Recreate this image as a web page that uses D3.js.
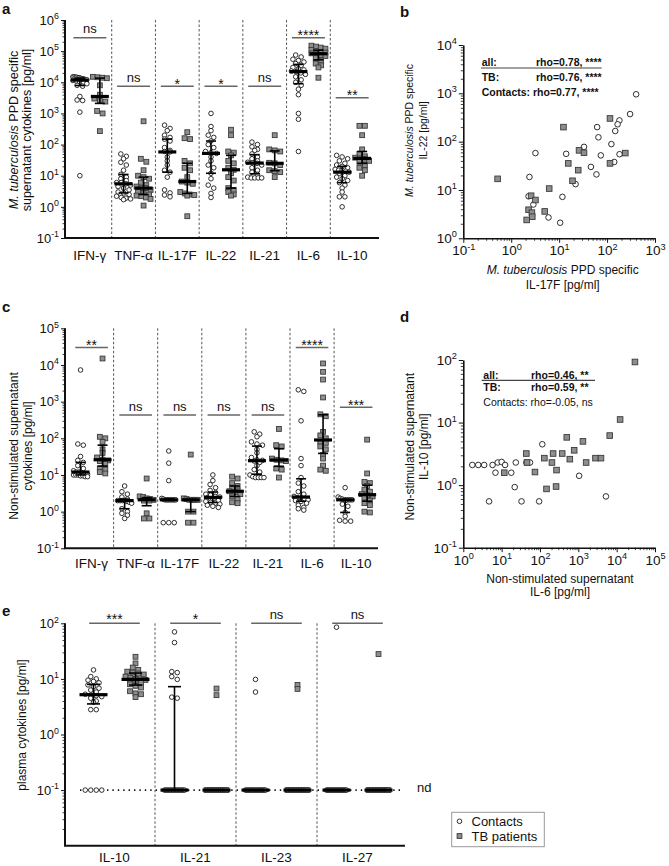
<!DOCTYPE html>
<html><head><meta charset="utf-8">
<script src="https://cdn.jsdelivr.net/npm/d3@7"></script>
<style>
body{margin:0;background:#fff}
svg{display:block}
text{font-family:"Liberation Sans",Arial,Helvetica,sans-serif;fill:#111}
</style>
</head><body>
<svg id="chart" width="669" height="866"></svg>
<script>
// ---------------- DATA ----------------
const cytokinesAC = ["IFN-γ","TNF-α","IL-17F","IL-22","IL-21","IL-6","IL-10"];
const sigA = ["ns","ns","*","*","ns","****","**"];
const sigC = ["**","ns","ns","ns","ns","****","***"];
const cytokinesE = ["IL-10","IL-21","IL-23","IL-27"];
const sigE = ["***","*","ns","ns"];

// a: M. tuberculosis PPD specific supernatant cytokines [pg/ml]
const ppdContacts = [
  [15000,15000,14500,14500,14000,14000,13500,13000,13000,12500,12000,12000,11500,11000,10000,9500,9000,8000,7500,3500,2700,2600,1100,10],
  [50,42,35,27,22,15,11,9,8,7,6,6,5.5,5,4.5,4,3.5,3,2.8,2.5,2.2,2,1.9,1.8,1.7],
  [420,330,280,200,170,150,130,80,65,60,58,40,30,22,15,13,9,3.5,2.8,2.4,2.1],
  [1000,380,280,200,170,130,100,80,60,55,52,40,30,22,18,12,8,5,4,2.7,2],
  [120,100,85,70,65,50,40,35,30,27,26,25,22,18,15,13,11,9,8.5,8.5,8.5,8.5],
  [75000,65000,55000,50000,45000,40000,35000,30000,27000,25000,23000,22000,20000,18000,15000,12000,10000,8000,6000,4000,1000,650,60],
  [45,40,35,30,25,22,20,18,16,15,15,14,13,12,10,9,8,7,6,5,4,3,2.1,2.1,1]
];
const ppdTB = [
  [15000,14500,14000,13500,8000,4000,3000,2600,2400,1200,1000,270],
  [560,35,28,15,10,9,8,6,5,4.5,4,4,3.5,3,2.8,2.5,2.3,2.2,2,1.8,1.1],
  [250,160,150,30,25,18,15,9,6.5,6,5.5,3,2.7,2.5,2.4,2.3,0.5],
  [300,200,60,55,45,30,25,18,15.5,12,9,7,4,3.5,3,2.5,2.3],
  [200,70,65,60,26,25,22,15,14,13,9],
  [150000,140000,130000,120000,110000,100000,95000,90000,85000,80000,75000,70000,60000,50000,40000,35000,30000,14000],
  [400,400,200,70,50,42,38,36,35,30,28,22,18,15,10]
];

// c: non-stimulated supernatant cytokines [pg/ml]
const unstimContacts = [
  [7300,70,65,32,25,22,18,15,13,12,12,11,11,10.5,10,10,10,9.5,9.5,9,9],
  [5,3.5,3,2.5,2.2,2,2,2,2,1.9,1.8,1.7,1.2,1,0.9,0.8,0.65],
  [45,21,7,2.3,2.2,2.1,2.1,2.1,2.1,2.1,2.1,2.1,2.1,0.5,0.5,0.5],
  [10,7,5.5,4.5,3.8,3.3,3,2.8,2.6,2.5,2.4,2.2,2,1.9,1.8,1.7,1.6,1.5,1.4,1.3],
  [150,130,110,80,70,65,50,40,30,26,25,24,22,18,14,12,10,9,8.5,8.5,8.5,8.5],
  [2100,1900,300,28,18,8.5,6,5,3.5,3,2.6,2.4,2.3,2.2,2.1,2,1.9,1.7,1.5,1.3,1.2,1.1],
  [4.5,2.5,2.3,2.2,2.1,2.1,2.1,2.1,2.1,2.0,1.6,1.4,0.95,0.75,0.58,0.55,0.55]
];
const unstimTB = [
  [15000,110,100,80,50,40,30,26,25,24,20,15,14,12,11],
  [8,2.6,2.5,2.3,2.2,2.1,2,2,0.9,0.65,0.65],
  [36,2.3,2.2,2.1,2.1,2.1,2.1,1.0,1.0,0.5,0.5],
  [9,8,6,5,4.5,3.8,3.6,3.4,3,2.6,2.2,1.8,1.7],
  [180,65,60,28,26,25,24,15,14,8.5],
  [11000,6500,4000,1300,450,400,150,120,100,80,75,60,50,35,28,18,14,13],
  [92,11,6.5,6,5,4,3.5,3,2.8,2.6,2.4,2,1.7,1.5,1,0.95]
];

// e: plasma cytokines [pg/ml]; 0.1 = not detected (nd)
const plasmaContacts = [
  [14.5,11,10,9.5,9,8.5,7.8,7.2,6.8,6.3,5.8,5.3,5.1,5.0,4.8,4.5,4.0,3.8,2.8,2.8,0.1,0.1,0.1,0.1],
  [70,45,13.5,13,11,9.8,4.7,4.5,0.1,0.1,0.1,0.1,0.1,0.1,0.1,0.1,0.1,0.1,0.1,0.1,0.1,0.1,0.1],
  [9.8,5.8,0.1,0.1,0.1,0.1,0.1,0.1,0.1,0.1,0.1,0.1,0.1,0.1,0.1,0.1,0.1,0.1,0.1,0.1],
  [85,0.1,0.1,0.1,0.1,0.1,0.1,0.1,0.1,0.1,0.1,0.1,0.1,0.1,0.1,0.1,0.1,0.1,0.1,0.1]
];
const plasmaTB = [
  [25,19,16,14.5,13.5,13,12.5,12,11,10.5,10,9.8,9.6,9.3,9,8.5,8,7.5,7,6,5.5,5.3,4.7],
  [6.7,5.1,0.1,0.1,0.1,0.1,0.1,0.1,0.1,0.1,0.1,0.1,0.1,0.1],
  [7.8,6.6,0.1,0.1,0.1,0.1,0.1,0.1,0.1,0.1,0.1,0.1,0.1,0.1,0.1],
  [28,0.1,0.1,0.1,0.1,0.1,0.1,0.1,0.1,0.1,0.1,0.1,0.1,0.1,0.1]
];

// b: IL-17F (x) vs IL-22 (y), PPD specific [pg/ml]
const bContactsX = [404,302,181,166,148,62,66,123,33,14,3.2,74,182,141,46,60,2.4,22,2.3,11.7,2.9,6,10.5];
const bContactsY = [955,372,275,229,166,200,123,89,78,56,58,52,55,38,30,21,18.6,13.2,7.4,7.2,5,2.7,2.1];
const bTBX = [115,12.3,26,33,240,15.5,25,115,19,0.52,6.2,2.6,3.2,2.3,2.7,2.75,2.1,5];
const bTBY = [302,200,66,59,58,35.5,25.7,35.5,15.5,17,10.7,7.6,6.2,3.9,3.4,2.8,2.4,3.6];
const bStats = [["all:","rho=0.78, ****"],["TB:","rho=0.76, ****"],["Contacts: rho=0.77, ****"]];

// d: IL-6 (x) vs IL-10 (y), non-stimulated [pg/ml]
const dContactsX = [1.72,2.45,3.5,5.8,7.9,10,12.3,6.9,17.8,23.4,115,44,55,21.9,4.7,33,95,1050,5250];
const dContactsY = [2.1,2.1,2.1,2.1,2.3,2.35,2.1,1.58,1.58,2.3,4.5,2.3,2.3,0.93,0.55,0.55,0.55,1.41,0.66];
const dTBX = [30000,12300,6600,500,1320,780,44,220,380,130,600,1600,2800,3900,46,205,270,74,11.7,148,263];
const dTBY = [93,11.2,6.2,5.8,5.0,3.6,3.2,3.2,3.2,2.7,2.6,2.3,2.7,2.7,2.3,2.3,1.74,1.62,1.58,0.87,0.95];
const dStats = [["all:","rho=0.46, **"],["TB:","rho=0.59, **"],["Contacts: rho=-0.05, ns"]];

// ---------------- DRAWING ----------------
const svg = d3.select("#chart");
const FILL_SQ = "#8e8e8e", STROKE_SQ = "#3a3a3a", STROKE_C = "#1a1a1a";

function minorTicks(lo, hi) {
  const out = [];
  for (let e = Math.round(Math.log10(lo)); e < Math.round(Math.log10(hi)); e++)
    for (let k = 2; k <= 9; k++) out.push(k * Math.pow(10, e));
  return out;
}
function majorTicks(lo, hi) {
  const out = [];
  for (let e = Math.round(Math.log10(lo)); e <= Math.round(Math.log10(hi)); e++) out.push(Math.pow(10, e));
  return out;
}
function supLabels(g, fs) {
  g.attr("font-family", null).attr("font-size", null);
  g.selectAll(".tick text").each(function(d) {
    const e = Math.round(Math.log10(d));
    const t = d3.select(this);
    t.text(null).attr("font-size", fs).attr("fill", "#111");
    t.append("tspan").text("10");
    t.append("tspan").attr("font-size", fs * 0.68).attr("dy", -fs * 0.42).text(e < 0 ? "-" + (-e) : String(e));
  });
}
function styleAxis(g, w) {
  g.selectAll(".domain").attr("stroke", "#111").attr("stroke-width", w);
  g.selectAll(".tick line").attr("stroke", "#111").attr("stroke-width", 1);
}
function drawCircle(g, x, y, r) {
  g.append("circle").attr("cx", x).attr("cy", y).attr("r", r)
    .attr("fill", "#fff").attr("stroke", STROKE_C).attr("stroke-width", 0.9);
}
function drawSquare(g, x, y, s) {
  g.append("rect").attr("x", x - s / 2).attr("y", y - s / 2).attr("width", s).attr("height", s)
    .attr("fill", FILL_SQ).attr("stroke", STROKE_SQ).attr("stroke-width", 0.9);
}
// arrange values of one column into rows (scatter dot plot)
function layoutRows(vals, y, gx, r, W) {
  const items = vals.map(v => ({ v, py: y(v) })).sort((a, b) => a.py - b.py);
  const rows = []; let cur = null;
  items.forEach(it => {
    if (!cur || it.py - cur.y0 > r * 1.5) { cur = { y0: it.py, items: [] }; rows.push(cur); }
    cur.items.push(it);
  });
  rows.forEach(row => {
    const k = row.items.length;
    const s = k > 1 ? Math.min(2 * r + 0.9, 2 * W / (k - 1)) : 0;
    row.items.forEach((it, j) => { it.px = gx + (j - (k - 1) / 2) * s; });
  });
  return items;
}

function stripPanel(o) {
  const g = svg.append("g");
  const x = d3.scaleBand().domain(o.cats).range(o.bandRange);
  const y = d3.scaleLog().domain(o.yDomain).range(o.yRange);
  const top = o.yRange[1], bottom = o.yRange[0];

  // group separators
  o.cats.slice(1).forEach(c => {
    g.append("line").attr("x1", x(c)).attr("x2", x(c)).attr("y1", top).attr("y2", bottom)
      .attr("stroke", "#444").attr("stroke-width", 0.9).attr("stroke-dasharray", "2.5,2");
  });
  if (o.ndLine) {
    g.append("line").attr("x1", o.ndLine[0]).attr("x2", o.ndLine[1]).attr("y1", y(0.1)).attr("y2", y(0.1))
      .attr("stroke", "#111").attr("stroke-width", 1.6).attr("stroke-dasharray", "1.4,4");
    g.append("text").attr("x", o.ndLine[1] + 15).attr("y", y(0.1) + 2).attr("font-size", 13).text("nd");
  }

  o.cats.forEach((c, i) => {
    const cx = x(c) + x.bandwidth() / 2;
    // significance
    const sy = y(o.sigAt[i]);
    g.append("line").attr("x1", cx - o.sigHalf).attr("x2", cx + o.sigHalf).attr("y1", sy).attr("y2", sy)
      .attr("stroke", "#666").attr("stroke-width", 1.6);
    const isNs = o.sig[i] === "ns";
    g.append("text").attr("x", cx).attr("y", isNs ? sy - 4.4 : sy + o.astBase)
      .attr("text-anchor", "middle").attr("font-size", isNs ? 13 : 14).text(o.sig[i]);

    [[o.contacts[i], cx - o.offset, "c"], [o.tb[i], cx + o.offset, "s"]].forEach(([vals, gx, shape]) => {
      const pts = layoutRows(vals, y, gx, o.r, o.W);
      pts.forEach(p => shape === "c" ? drawCircle(g, p.px, p.py, o.r) : drawSquare(g, p.px, p.py, o.r * 2.1));
      const sorted = vals.slice().sort(d3.ascending);
      const q1 = d3.quantile(sorted, 0.25), med = d3.quantile(sorted, 0.5), q3 = d3.quantile(sorted, 0.75);
      g.append("line").attr("x1", gx).attr("x2", gx).attr("y1", y(q1)).attr("y2", y(q3))
        .attr("stroke", "#000").attr("stroke-width", 1.6);
      [q1, q3].forEach(q => g.append("line").attr("x1", gx - o.capW / 2).attr("x2", gx + o.capW / 2)
        .attr("y1", y(q)).attr("y2", y(q)).attr("stroke", "#000").attr("stroke-width", 1.6));
      g.append("line").attr("x1", gx - o.medW / 2).attr("x2", gx + o.medW / 2)
        .attr("y1", y(med)).attr("y2", y(med)).attr("stroke", "#000").attr("stroke-width", 3.2);
    });
  });

  // y axis
  const ya = g.append("g").attr("transform", `translate(${o.axisX},0)`)
    .call(d3.axisLeft(y).tickValues(majorTicks(o.yDomain[0] * (o.skipBottom ? 10 : 1), o.yDomain[1])).tickSize(4).tickPadding(2).tickSizeOuter(0));
  supLabels(ya, 13);
  styleAxis(ya, 2);
  ya.select(".domain").attr("d", `M0,${bottom}V${top}`);
  const ym = g.append("g").attr("transform", `translate(${o.axisX},0)`)
    .call(d3.axisLeft(y).tickValues(minorTicks(o.yDomain[0], o.yDomain[1])).tickSize(2.5).tickFormat("").tickSizeOuter(0));
  ym.select(".domain").remove();
  ym.selectAll(".tick line").attr("stroke", "#111").attr("stroke-width", 0.8);

  // x axis (categories)
  const xa = g.append("g").attr("transform", `translate(0,${bottom})`)
    .call(d3.axisBottom(x).tickSize(0).tickPadding(o.labelPad));
  xa.attr("font-family", null).attr("font-size", null);
  xa.select(".domain").remove();
  xa.selectAll(".tick text").attr("font-size", 13.5).attr("fill", "#111");
  g.append("line").attr("x1", o.axisX - 1).attr("x2", o.axisXEnd).attr("y1", bottom).attr("y2", bottom)
    .attr("stroke", "#111").attr("stroke-width", 2);

  // y title
  const t = g.append("text").attr("transform", `translate(0,${o.titleY}) rotate(-90)`)
    .attr("text-anchor", "middle").attr("font-size", o.titleFs);
  o.titleLines.forEach((ln, k) => {
    const tl = t.append("tspan").attr("x", 0).attr("y", o.titleX[k]).attr("dy", "0.35em");
    ln.forEach(([s, it]) => tl.append("tspan").attr("font-style", it ? "italic" : null).text(s));
  });
}

function scatterPanel(o) {
  const g = svg.append("g");
  const x = d3.scaleLog().domain(o.xDomain).range(o.xRange);
  const y = d3.scaleLog().domain(o.yDomain).range(o.yRange);
  const x0 = o.xRange[0], y0 = o.yRange[0];

  o.cx.forEach((v, i) => drawCircle(g, x(v), y(o.cy[i]), 2.8));
  o.tx.forEach((v, i) => drawSquare(g, x(v), y(o.ty[i]), 5.6));

  const xa = g.append("g").attr("transform", `translate(0,${y0})`)
    .call(d3.axisBottom(x).tickValues(majorTicks(o.xDomain[0], o.xDomain[1])).tickSize(4.5).tickPadding(3).tickSizeOuter(0));
  supLabels(xa, 13.5);
  styleAxis(xa, 1.6);
  const xm = g.append("g").attr("transform", `translate(0,${y0})`)
    .call(d3.axisBottom(x).tickValues(minorTicks(o.xDomain[0], o.xDomain[1])).tickSize(2.5).tickFormat(""));
  xm.select(".domain").remove();
  xm.selectAll(".tick line").attr("stroke", "#111").attr("stroke-width", 0.8);

  const ya = g.append("g").attr("transform", `translate(${x0},0)`)
    .call(d3.axisLeft(y).tickValues(majorTicks(o.yDomain[0], o.yDomain[1])).tickSize(4.5).tickPadding(2).tickSizeOuter(0));
  supLabels(ya, 13.5);
  styleAxis(ya, 1.6);
  const ymn = g.append("g").attr("transform", `translate(${x0},0)`)
    .call(d3.axisLeft(y).tickValues(minorTicks(o.yDomain[0], o.yDomain[1])).tickSize(2.5).tickFormat(""));
  ymn.select(".domain").remove();
  ymn.selectAll(".tick line").attr("stroke", "#111").attr("stroke-width", 0.8);

  // stats box
  o.stats.forEach((row, k) => {
    const by = o.statsY[k];
    const bold = k < 2 || o.boldContacts;
    g.append("text").attr("x", o.statsX[0]).attr("y", by).attr("font-size", 10.5)
      .attr("font-weight", bold ? "bold" : null).text(row[0]);
    if (row[1]) g.append("text").attr("x", o.statsX[1]).attr("y", by).attr("font-size", 10.5)
      .attr("font-weight", "bold").text(row[1]);
  });
  g.append("line").attr("x1", o.statsLine[0]).attr("x2", o.statsLine[1]).attr("y1", o.statsLine[2]).attr("y2", o.statsLine[2])
    .attr("stroke", "#444").attr("stroke-width", 1.2);

  // axis titles
  const xt = g.append("text").attr("text-anchor", "middle").attr("font-size", o.xTitleFs);
  o.xTitle.forEach((ln, k) => {
    const tl = xt.append("tspan").attr("x", o.xTitlePos[0]).attr("y", o.xTitlePos[1 + k]);
    ln.forEach(([s, it]) => tl.append("tspan").attr("font-style", it ? "italic" : null).text(s));
  });
  const yt = g.append("text").attr("transform", `translate(0,${o.yTitlePos[0]}) rotate(-90)`)
    .attr("text-anchor", "middle").attr("font-size", o.yTitleFs);
  o.yTitle.forEach((ln, k) => {
    const tl = yt.append("tspan").attr("x", 0).attr("y", o.yTitlePos[1 + k]).attr("dy", "0.35em");
    ln.forEach(([s, it]) => tl.append("tspan").attr("font-style", it ? "italic" : null).text(s));
  });
}

// panel a
stripPanel({
  cats: cytokinesAC, contacts: ppdContacts, tb: ppdTB, sig: sigA,
  sigAt: [2.7e5, 7.5e3, 7.5e3, 7.5e3, 7.5e3, 2.7e5, 3.2e3],
  bandRange: [68, 374], axisX: 65, axisXEnd: 379,
  yDomain: [0.1, 1e6], yRange: [238, 20],
  offset: 10, r: 2.3, W: 7, medW: 18, capW: 10, sigHalf: 16.5, labelPad: 12, astBase: 2.5,
  titleY: 130, titleX: [13.5, 27], titleFs: 12.5,
  titleLines: [[["M. tuberculosis", true], [" PPD specific", false]], [["supernatant cytokines [pg/ml]", false]]]
});
// panel c
stripPanel({
  cats: cytokinesAC, contacts: unstimContacts, tb: unstimTB, sig: sigC,
  sigAt: [3e4, 430, 430, 430, 430, 3e4, 700],
  bandRange: [69.5, 378.2], axisX: 65, axisXEnd: 378,
  yDomain: [0.1, 1e5], yRange: [548.3, 328.3],
  offset: 11, r: 2.3, W: 7, medW: 18, capW: 10, sigHalf: 16.3, labelPad: 10.3, astBase: 2.4,
  titleY: 446, titleX: [14, 27.5], titleFs: 12,
  titleLines: [[["Non-stimulated supernatant", false]], [["cytokines [pg/ml]", false]]]
});
// panel e
stripPanel({
  cats: cytokinesE, contacts: plasmaContacts, tb: plasmaTB, sig: sigE,
  sigAt: [100, 100, 100, 100],
  bandRange: [74, 398], axisX: 65, axisXEnd: 405, skipBottom: true,
  yDomain: [0.01, 100], yRange: [845.7, 623.3], ndLine: [80, 402],
  offset: 21, r: 2.3, W: 10, medW: 28, capW: 13, sigHalf: 25.3, labelPad: 6.8, astBase: 0.3,
  titleY: 725, titleX: [21.5], titleFs: 12,
  titleLines: [[["plasma cytokines [pg/ml]", false]]]
});
// panel b
scatterPanel({
  xDomain: [0.1, 1000], xRange: [463.3, 655], yDomain: [1, 1e4], yRange: [238.3, 45],
  cx: bContactsX, cy: bContactsY, tx: bTBX, ty: bTBY,
  stats: bStats, statsX: [481.7, 536], statsY: [66.4, 81.4, 96.4], statsLine: [481, 601.7, 68], boldContacts: true,
  xTitle: [[["M. tuberculosis", true], [" PPD specific", false]], [["IL-17F [pg/ml]", false]]],
  xTitlePos: [562.7, 274, 289], xTitleFs: 12,
  yTitle: [[["M. tuberculosis", true], [" PPD specific", false]], [["IL-22 [pg/ml]", false]]],
  yTitlePos: [130.4, 409.3, 423.3], yTitleFs: 10.5
});
// panel d
scatterPanel({
  xDomain: [1, 1e5], xRange: [463.3, 655], yDomain: [0.1, 100], yRange: [547.7, 360],
  cx: dContactsX, cy: dContactsY, tx: dTBX, ty: dTBY,
  stats: dStats, statsX: [483.3, 531], statsY: [378.7, 391.4, 406], statsLine: [481.7, 595, 380.3], boldContacts: false,
  xTitle: [[["Non-stimulated supernatant", false]], [["IL-6 [pg/ml]", false]]],
  xTitlePos: [560, 582.5, 596], xTitleFs: 12,
  yTitle: [[["Non-stimulated supernatant", false]], [["IL-10 [pg/ml]", false]]],
  yTitlePos: [446.7, 410, 423.3], yTitleFs: 12
});

// panel letters
[["a", 2, 14], ["b", 400, 17], ["c", 2, 312], ["d", 400, 322], ["e", 2, 616]].forEach(([l, x, y]) =>
  svg.append("text").attr("x", x).attr("y", y).attr("font-size", 15).attr("font-weight", "bold").text(l));

// legend
const lg = svg.append("g");
lg.append("rect").attr("x", 451.7).attr("y", 812.3).attr("width", 92.6).attr("height", 34.4)
  .attr("fill", "#fff").attr("stroke", "#999").attr("stroke-width", 1);
drawCircle(lg, 459.5, 821.3, 2.3);
drawSquare(lg, 459.5, 836, 4.8);
lg.append("text").attr("x", 471.5).attr("y", 825.8).attr("font-size", 13).text("Contacts");
lg.append("text").attr("x", 471.5).attr("y", 840.6).attr("font-size", 13).text("TB patients");
</script>
</body></html>
